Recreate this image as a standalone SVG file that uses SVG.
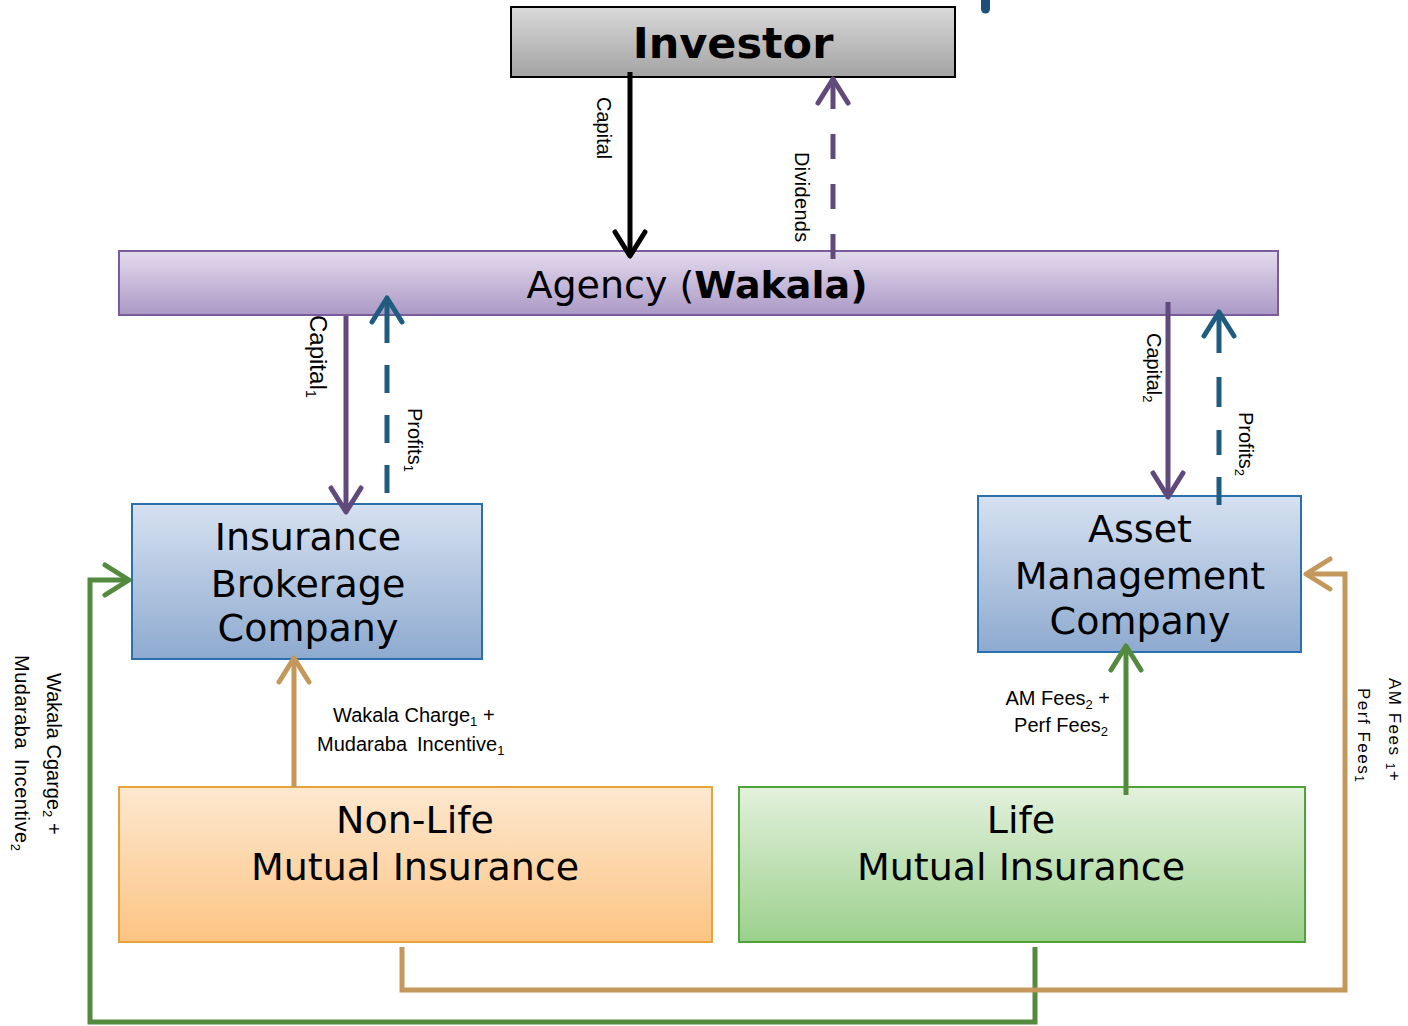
<svg xmlns="http://www.w3.org/2000/svg" width="1408" height="1026" viewBox="0 0 1408 1026">
<defs>
<linearGradient id="gGray" x1="0" y1="0" x2="0" y2="1"><stop offset="0" stop-color="#d9d9d9"/><stop offset="1" stop-color="#a3a3a3"/></linearGradient>
<linearGradient id="gPurple" x1="0" y1="0" x2="0" y2="1"><stop offset="0" stop-color="#e4dbee"/><stop offset="1" stop-color="#ab99c5"/></linearGradient>
<linearGradient id="gBlue" x1="0" y1="0" x2="0" y2="1"><stop offset="0" stop-color="#d6e1f1"/><stop offset="1" stop-color="#8eaacf"/></linearGradient>
<linearGradient id="gOrange" x1="0" y1="0" x2="0" y2="1"><stop offset="0" stop-color="#fde8cf"/><stop offset="1" stop-color="#fcc483"/></linearGradient>
<linearGradient id="gGreen" x1="0" y1="0" x2="0" y2="1"><stop offset="0" stop-color="#e3f1dc"/><stop offset="1" stop-color="#9bd08c"/></linearGradient>
<marker id="aBlack" markerUnits="userSpaceOnUse" orient="auto-start-reverse" markerWidth="40" markerHeight="40" refX="0" refY="0" viewBox="-30 -20 40 40" overflow="visible"><path d="M-24,-15 L0,0 L-24,15" fill="none" stroke="#000" stroke-width="5" stroke-linecap="round" stroke-linejoin="round" stroke-dasharray="none"/></marker>
<marker id="aPurple" markerUnits="userSpaceOnUse" orient="auto-start-reverse" markerWidth="40" markerHeight="40" refX="0" refY="0" viewBox="-30 -20 40 40" overflow="visible"><path d="M-24,-15 L0,0 L-24,15" fill="none" stroke="#604a7b" stroke-width="5" stroke-linecap="round" stroke-linejoin="round" stroke-dasharray="none"/></marker>
<marker id="aBlue" markerUnits="userSpaceOnUse" orient="auto-start-reverse" markerWidth="40" markerHeight="40" refX="0" refY="0" viewBox="-30 -20 40 40" overflow="visible"><path d="M-24,-15 L0,0 L-24,15" fill="none" stroke="#1f5c80" stroke-width="5" stroke-linecap="round" stroke-linejoin="round" stroke-dasharray="none"/></marker>
<marker id="aTan" markerUnits="userSpaceOnUse" orient="auto-start-reverse" markerWidth="40" markerHeight="40" refX="0" refY="0" viewBox="-30 -20 40 40" overflow="visible"><path d="M-24,-15 L0,0 L-24,15" fill="none" stroke="#c4975a" stroke-width="5" stroke-linecap="round" stroke-linejoin="round" stroke-dasharray="none"/></marker>
<marker id="aGreen" markerUnits="userSpaceOnUse" orient="auto-start-reverse" markerWidth="40" markerHeight="40" refX="0" refY="0" viewBox="-30 -20 40 40" overflow="visible"><path d="M-24,-15 L0,0 L-24,15" fill="none" stroke="#538a3e" stroke-width="5" stroke-linecap="round" stroke-linejoin="round" stroke-dasharray="none"/></marker>
</defs>
<style>
.node{font-family:"DejaVu Sans",sans-serif;font-size:38px;fill:#000;text-anchor:middle}
.lbl{font-family:"Liberation Sans",Arial,sans-serif;font-size:20px;fill:#000}
.sub{font-size:13px}
.c{fill:none;stroke-width:5}
</style>
<rect width="1408" height="1026" fill="#fff"/>

<g id="investor">
<rect x="511" y="7" width="444" height="70" fill="url(#gGray)" stroke="#000" stroke-width="2"/>
<text x="733" y="58" font-family="DejaVu Sans,sans-serif" font-weight="bold" font-size="43" text-anchor="middle">Investor</text>
</g>

<g id="agency">
<rect x="119" y="251" width="1159" height="64" fill="url(#gPurple)" stroke="#7a5b9c" stroke-width="2"/>
<text x="697" y="298" font-family="DejaVu Sans,sans-serif" font-size="38" text-anchor="middle">Agency (<tspan font-weight="bold">Wakala)</tspan></text>
</g>

<g id="brokerage">
<rect x="132" y="504" width="350" height="155" fill="url(#gBlue)" stroke="#2a70ad" stroke-width="2"/>
<text class="node" x="308" y="550">Insurance</text>
<text class="node" x="308" y="597">Brokerage</text>
<text class="node" x="308" y="641">Company</text>
</g>

<g id="asset">
<rect x="978" y="496" width="323" height="156" fill="url(#gBlue)" stroke="#2a70ad" stroke-width="2"/>
<text class="node" x="1140" y="542">Asset</text>
<text class="node" x="1140" y="589">Management</text>
<text class="node" x="1140" y="634">Company</text>
</g>

<g id="nonlife">
<rect x="119" y="787" width="593" height="155" fill="url(#gOrange)" stroke="#e8a23c" stroke-width="2"/>
<text class="node" x="415" y="833">Non-Life</text>
<text class="node" x="415" y="880">Mutual Insurance</text>
</g>

<g id="life">
<rect x="739" y="787" width="566" height="155" fill="url(#gGreen)" stroke="#4ea33a" stroke-width="2"/>
<text class="node" x="1021" y="833">Life</text>
<text class="node" x="1021" y="880">Mutual Insurance</text>
</g>

<g id="connectors">
<path d="M985.5,0 V9" stroke="#1f4e79" stroke-width="9" stroke-linecap="round" fill="none"/>
<path class="c" d="M630,72 V256" stroke="#000" marker-end="url(#aBlack)"/>
<path class="c" d="M833,79 V260" stroke="#604a7b" stroke-dasharray="30 25 25 25 25 25 25 25" marker-start="url(#aPurple)"/>
<path class="c" d="M346,316 V512" stroke="#604a7b" marker-end="url(#aPurple)"/>
<path class="c" d="M387,298 V493" stroke="#1f5c80" stroke-dasharray="45 22 28 22 28 22 28 22" marker-start="url(#aBlue)"/>
<path class="c" d="M1168,302 V497" stroke="#604a7b" marker-end="url(#aPurple)"/>
<path class="c" d="M1219,312 V505" stroke="#1f5c80" stroke-dasharray="41 24 30 23 25 22 28 22" marker-start="url(#aBlue)"/>
<path class="c" d="M294,787 V658" stroke="#c4975a" marker-end="url(#aTan)"/>
<path class="c" d="M1126,795 V646" stroke="#538a3e" marker-end="url(#aGreen)"/>
<path class="c" d="M1035,947 V1022 H90 V580 H129" stroke="#538a3e" marker-end="url(#aGreen)"/>
<path class="c" d="M402,947 V990 H1345 V574 H1306" stroke="#c4975a" marker-end="url(#aTan)"/>

<text class="lbl" transform="translate(597,97) rotate(90)">Capital</text>
<text class="lbl" transform="translate(795,152) rotate(90)" letter-spacing="0.3">Dividends</text>
<text class="lbl" transform="translate(310,315) rotate(90)" style="font-size:24px">Capital<tspan style="font-size:15px" dy="4">1</tspan></text>
<text class="lbl" transform="translate(408,408) rotate(90)">Profits<tspan class="sub" dy="4">1</tspan></text>
<text class="lbl" transform="translate(1147,333) rotate(90)">Capital<tspan class="sub" dy="4">2</tspan></text>
<text class="lbl" transform="translate(1239,412) rotate(90)">Profits<tspan class="sub" dy="4">2</tspan></text>
<text class="lbl" x="333" y="722">Wakala Charge<tspan class="sub" dy="4">1</tspan><tspan dy="-4"> +</tspan></text>
<text class="lbl" x="317" y="751">Mudaraba<tspan dx="10">Incentive</tspan><tspan class="sub" dy="4">1</tspan></text>
<text class="lbl" x="1110" y="705" text-anchor="end">AM Fees<tspan class="sub" dy="4">2</tspan><tspan dy="-4"> +</tspan></text>
<text class="lbl" x="1108" y="732" text-anchor="end">Perf Fees<tspan class="sub" dy="4">2</tspan></text>
<text class="lbl" transform="translate(47,673) rotate(90)">Wakala Cgarge<tspan class="sub" dy="4">2</tspan><tspan dy="-4"> +</tspan></text>
<text class="lbl" transform="translate(15,655) rotate(90)" letter-spacing="0.5">Mudaraba<tspan dx="10">Incentive</tspan><tspan class="sub" dy="4">2</tspan></text>
<text class="lbl" transform="translate(1389,678) rotate(90)" style="font-size:17px" letter-spacing="1.5">AM Fees <tspan style="font-size:12px" dy="3">1</tspan><tspan dy="-3">+</tspan></text>
<text class="lbl" transform="translate(1358,688) rotate(90)" style="font-size:17px" letter-spacing="1.5">Perf Fees<tspan style="font-size:12px" dy="3">1</tspan></text>
</g>
</svg>
